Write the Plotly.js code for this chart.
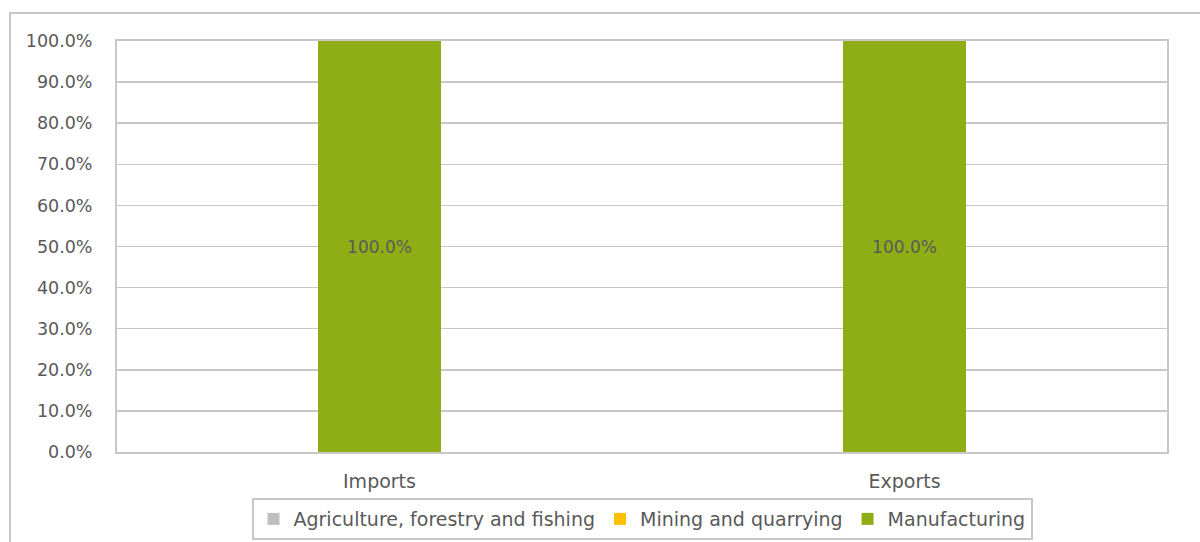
<!DOCTYPE html>
<html>
<head>
<meta charset="utf-8">
<script src="https://cdn.plot.ly/plotly-3.0.1.min.js"></script>
<style>html,body{margin:0;padding:0;background:#fff;}#chart{width:1200px;height:542px;}</style>
</head>
<body>
<div id="chart"></div>
<script>
const categories = ["Imports", "Exports"];
const seriesNames = ["Agriculture, forestry and fishing", "Mining and quarrying", "Manufacturing"];
const agriculture = [0, 0];
const mining = [0, 0];
const manufacturing = [100, 100];
const yTicks = [0, 10, 20, 30, 40, 50, 60, 70, 80, 90, 100];
const yTickText = yTicks.map(v => v.toFixed(1) + "%");

const colors = ["#BFBFBF", "#FFC000", "#8FAE16"];
const fontFam = "'Century Gothic', 'DejaVu Sans', sans-serif";

const traces = [
  {type: "bar", name: seriesNames[0], x: categories, y: agriculture, marker: {color: colors[0]}, hoverinfo: "skip"},
  {type: "bar", name: seriesNames[1], x: categories, y: mining, marker: {color: colors[1]}, hoverinfo: "skip"},
  {type: "bar", name: seriesNames[2], x: categories, y: manufacturing, marker: {color: colors[2]},
   texttemplate: "%{y:.1f}%", textposition: "inside", insidetextanchor: "middle",
   textfont: {family: fontFam, size: 17, color: "#595959"}, hoverinfo: "skip"}
];

const layout = {
  width: 1200, height: 542,
  barmode: "stack",
  bargap: 0.766,
  paper_bgcolor: "#ffffff", plot_bgcolor: "#ffffff",
  margin: {l: 117, r: 33, t: 41, b: 90, autoexpand: false},
  font: {family: fontFam, color: "#595959", size: 17},
  showlegend: true,
  legend: {orientation: "h", x: 0.5, xanchor: "center", y: -0.112, yanchor: "top",
           bordercolor: "#C8C8C8", borderwidth: 2, font: {size: 19, color: "#595959"},
           traceorder: "normal", itemwidth: 30},
  xaxis: {showline: true, linecolor: "#C8C8C8", linewidth: 2, mirror: true,
          showgrid: false, ticks: "", tickfont: {size: 19}, ticklabelstandoff: 11},
  yaxis: {range: [0, 100], tickvals: yTicks, tickformat: "", ticktext: yTickText,
          showgrid: true, gridcolor: "#C8C8C8", gridwidth: 1.5,
          showline: true, linecolor: "#C8C8C8", linewidth: 2, mirror: true,
          zeroline: false, ticks: "", tickfont: {size: 17.5}, ticklabelstandoff: 19},
  shapes: [
    {type: "rect", xref: "paper", yref: "paper",
     x0: -0.1019, x1: 1.04, y0: -0.23, y1: 1.068,
     line: {color: "#C8C8C8", width: 2}, fillcolor: "rgba(0,0,0,0)", layer: "below"}
  ]
};

Plotly.newPlot("chart", traces, layout, {displayModeBar: false, staticPlot: true});
</script>
</body>
</html>
